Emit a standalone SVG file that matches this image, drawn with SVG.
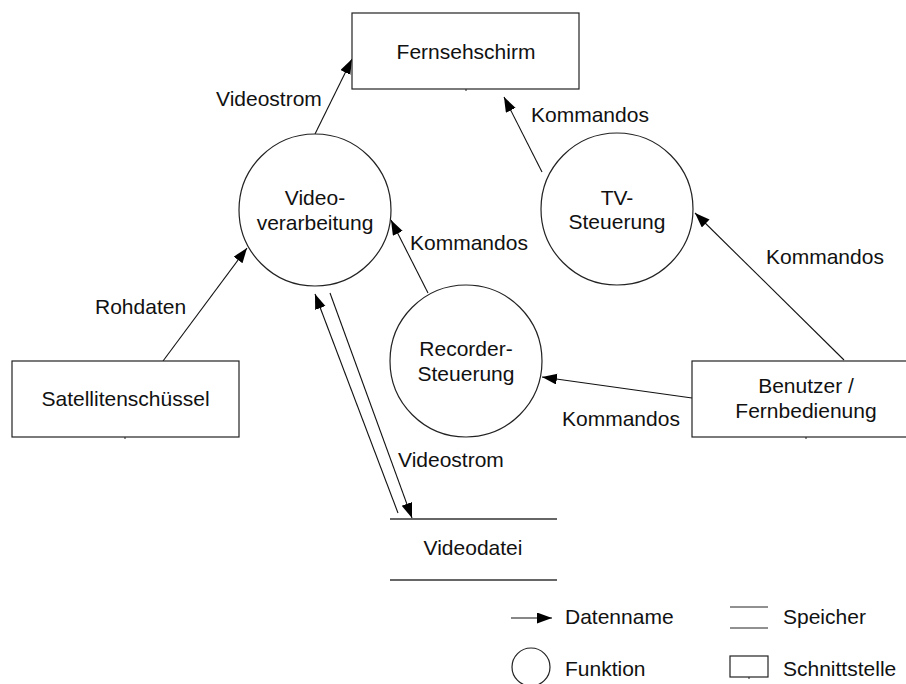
<svg xmlns="http://www.w3.org/2000/svg" width="906" height="684" viewBox="0 0 906 684">
<defs>
<marker id="ah" markerUnits="userSpaceOnUse" markerWidth="16" markerHeight="12" refX="15" refY="5.5" orient="auto">
<path d="M0,0 L15,5.5 L0,11 z" fill="#000"/>
</marker>
</defs>
<style>
text{font-family:"Liberation Sans",Arial,Helvetica,sans-serif;font-size:21px;fill:#111}
.c{text-anchor:middle}
.n{fill:#fff;stroke:#222;stroke-width:1.2}
.t{stroke:#222;stroke-width:1}
.e{fill:none;stroke:#111;stroke-width:1.1;marker-end:url(#ah)}
.s{stroke:#333;stroke-width:1.3}
</style>
<rect width="906" height="684" fill="#fff"/>
<g id="connectors">
<line class="e" x1="315" y1="134" x2="352" y2="59"/>
<line class="e" x1="542" y1="172" x2="504" y2="97"/>
<line class="e" x1="428" y1="293" x2="391" y2="220"/>
<line class="e" x1="844" y1="360" x2="695" y2="213"/>
<line class="e" x1="692" y1="398" x2="542" y2="377"/>
<line class="e" x1="163" y1="361" x2="247" y2="248"/>
<line class="e" x1="330" y1="293" x2="412" y2="518"/>
<line class="e" x1="398" y1="513" x2="315" y2="294"/>
<text x="216" y="106">Videostrom</text>
<text x="531" y="122">Kommandos</text>
<text x="410" y="250">Kommandos</text>
<text x="766" y="264">Kommandos</text>
<text x="95" y="314">Rohdaten</text>
<text x="562" y="426">Kommandos</text>
<text x="398" y="467">Videostrom</text>
</g>
<g id="fernsehschirm">
<rect class="n" x="352" y="13" width="227" height="76"/>
<line class="t" x1="466" y1="89" x2="466" y2="91"/>
<text class="c" x="466" y="59">Fernsehschirm</text>
</g>
<g id="videoverarbeitung">
<circle class="n" cx="315" cy="210" r="76"/>
<text class="c" x="315" y="205">Video-</text>
<text class="c" x="315" y="230">verarbeitung</text>
</g>
<g id="tvsteuerung">
<circle class="n" cx="617" cy="209" r="76"/>
<text class="c" x="617" y="205">TV-</text>
<text class="c" x="617" y="229">Steuerung</text>
</g>
<g id="recordersteuerung">
<circle class="n" cx="466" cy="361" r="76"/>
<text class="c" x="466" y="356">Recorder-</text>
<text class="c" x="466" y="381">Steuerung</text>
</g>
<g id="satellitenschuessel">
<rect class="n" x="12" y="361" width="227" height="76"/>
<line class="t" x1="125" y1="437" x2="125" y2="439"/>
<text class="c" x="125.5" y="406">Satellitenschüssel</text>
</g>
<g id="benutzer">
<rect class="n" x="692" y="361" width="228" height="76"/>
<line class="t" x1="806" y1="437" x2="806" y2="439"/>
<text class="c" x="806" y="393">Benutzer /</text>
<text class="c" x="806" y="418">Fernbedienung</text>
</g>
<g id="videodatei">
<line class="s" x1="390" y1="519" x2="557" y2="519"/>
<line class="s" x1="390" y1="580" x2="557" y2="580"/>
<text class="c" x="473" y="555">Videodatei</text>
</g>
<g id="legend">
<line class="e" x1="511" y1="618" x2="552" y2="618"/>
<text x="565" y="624">Datenname</text>
<line class="t" x1="730" y1="607" x2="768" y2="607"/>
<line class="t" x1="730" y1="628" x2="768" y2="628"/>
<text x="783" y="624">Speicher</text>
<circle class="n" cx="531" cy="667" r="19"/>
<text x="565" y="676">Funktion</text>
<rect class="n" x="730" y="656" width="38" height="21"/>
<line class="t" x1="749" y1="677" x2="749" y2="679"/>
<text x="783" y="676">Schnittstelle</text>
</g>
</svg>
